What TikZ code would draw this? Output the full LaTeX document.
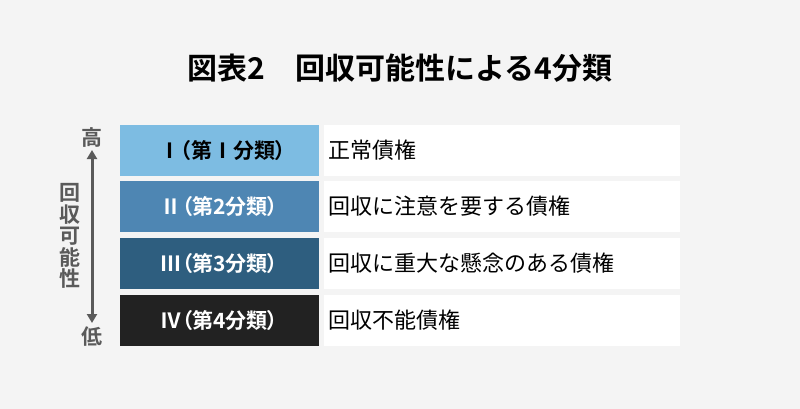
\documentclass[tikz,border=0pt]{standalone}
\usepackage{fontspec}
\setmainfont{Noto Sans CJK JP}
\newfontfamily\jpbold{Noto Sans CJK JP Bold}
\newfontfamily\jpboldp[RawFeature=+palt]{Noto Sans CJK JP Bold}
\usetikzlibrary{arrows.meta}
\definecolor{bgc}{HTML}{F4F4F4}
\definecolor{cA}{HTML}{7DBCE2}
\definecolor{cB}{HTML}{4E86B3}
\definecolor{cC}{HTML}{2E5E7F}
\definecolor{cD}{HTML}{222222}
\definecolor{grayc}{HTML}{5A5A5A}
\tikzset{
  catbox/.style={minimum width=199pt, minimum height=51pt, inner sep=0pt, font=\jpboldp\fontsize{21}{21}\selectfont},
  descbox/.style={fill=white, minimum height=51pt, text width=348pt, inner xsep=4pt, inner ysep=0pt, align=left, font=\fontsize{22}{22}\selectfont, text=black},
  sidelbl/.style={text=grayc, inner sep=0pt, font=\jpbold\fontsize{21}{21}\selectfont}
}
\begin{document}
\begin{tikzpicture}[x=1pt,y=-1pt]
\fill[bgc] (0,0) rectangle (800,409);
\useasboundingbox (0,0) rectangle (800,409);
\node[font=\jpbold\fontsize{30}{30}\selectfont, text=black] (title) at (400,68) {図表2　回収可能性による4分類};
\node[catbox, fill=cA, text=black] (c1) at (219.5,150.5) {\hspace*{6pt}Ⅰ（第Ⅰ分類）};
\node[catbox, fill=cB, text=white] (c2) at (219.5,206.5) {Ⅱ（第2分類）};
\node[catbox, fill=cC, text=white] (c3) at (219.5,263.5) {Ⅲ（第3分類）};
\node[catbox, fill=cD, text=white] (c4) at (219.5,320.5) {Ⅳ（第4分類）};
\node[descbox] (d1) at (502,150.5) {正常債権};
\node[descbox] (d2) at (502,206.5) {回収に注意を要する債権};
\node[descbox] (d3) at (502,263.5) {回収に重大な懸念のある債権};
\node[descbox] (d4) at (502,320.5) {回収不能債権};
\node[sidelbl] (hi) at (92,138) {高};
\node[sidelbl] (lo) at (92,337) {低};
\coordinate (atop) at (92,150);
\coordinate (abot) at (92,323);
\draw[grayc, line width=3pt, {Triangle[length=9pt,width=10pt]}-{Triangle[length=9pt,width=10pt]}] (atop) -- (abot);
\node[sidelbl, align=center, font=\jpbold\fontsize{21}{21.6}\selectfont] (vt) at (70,236) {回\\収\\可\\能\\性};
\end{tikzpicture}
\end{document}
